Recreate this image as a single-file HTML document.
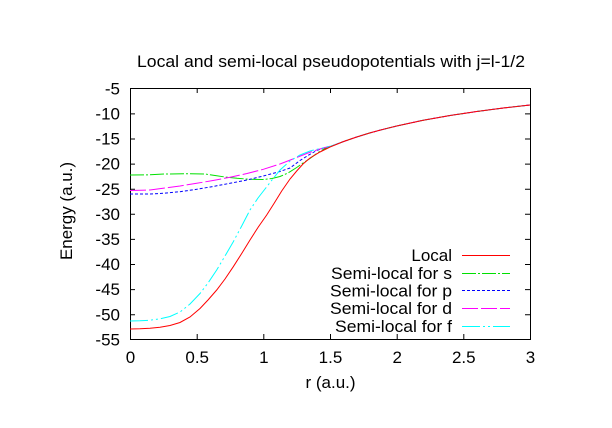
<!DOCTYPE html>
<html><head><meta charset="utf-8"><style>
html,body{margin:0;padding:0;background:#fff;}
svg{display:block;}
text{font-family:"Liberation Sans",sans-serif;font-size:17px;fill:#000;}
</style></head><body>
<svg width="612" height="428" viewBox="0 0 612 428" xmlns="http://www.w3.org/2000/svg">
<rect width="612" height="428" fill="#fff"/>
<text x="137" y="67" textLength="388" lengthAdjust="spacingAndGlyphs">Local and semi-local pseudopotentials with j=l-1/2</text>
<g stroke="#000" stroke-width="1" fill="none">
<rect x="130.5" y="88.5" width="400" height="251"/>
<path d="M130 113.9h5M130 139h5M130 164.1h5M130 189.2h5M130 214.3h5M130 239.4h5M130 264.5h5M130 289.6h5M130 314.7h5
M530 113.9h-5M530 139h-5M530 164.1h-5M530 189.2h-5M530 214.3h-5M530 239.4h-5M530 264.5h-5M530 289.6h-5M530 314.7h-5
M197.2 339v-5M263.8 339v-5M330.5 339v-5M397.2 339v-5M463.8 339v-5
M197.2 88v5M263.8 88v5M330.5 88v5M397.2 88v5M463.8 88v5"/>
</g>
<g text-anchor="end">
<text x="120" y="94.5">-5</text>
<text x="120" y="119.5">-10</text>
<text x="120" y="144.6">-15</text>
<text x="120" y="169.7">-20</text>
<text x="120" y="194.8">-25</text>
<text x="120" y="219.9">-30</text>
<text x="120" y="245">-35</text>
<text x="120" y="270.1">-40</text>
<text x="120" y="295.2">-45</text>
<text x="120" y="320.3">-50</text>
<text x="120" y="345.4">-55</text>
</g>
<g text-anchor="middle">
<text x="130.5" y="363">0</text>
<text x="197.2" y="363">0.5</text>
<text x="263.8" y="363">1</text>
<text x="330.5" y="363">1.5</text>
<text x="397.2" y="363">2</text>
<text x="463.8" y="363">2.5</text>
<text x="530.5" y="363">3</text>
<text x="330.5" y="388">r (a.u.)</text>
</g>
<text transform="translate(72,211) rotate(-90)" text-anchor="middle" textLength="98" lengthAdjust="spacingAndGlyphs">Energy (a.u.)</text>

<g fill="none" stroke-width="1">
<!-- s: green -->
<polyline stroke="#00e000" stroke-dasharray="14 2 2 2" points="130,175 150,174.8 165,174 190,173.7 205,174 215,175.5 225,177 237,178.3 250,179.3 263,179.5 272,178.5 280,176.5 288,173 296.7,167.5 303,163 310,158.5 318,152.5 325,148.5 333,145.5 343.3,141.6 356.7,137 370,132.9 383.3,129.3 396.7,126 423.3,120.2 450,115.5 476.7,111.5 503.3,108 530,105"/>
<!-- p: blue -->
<polyline stroke="#0000ff" stroke-dasharray="3 2" points="130,194 150,194 163,193.3 180,191.7 196.7,189.3 213,186.5 230,183.3 247,180 263.3,176 280,171.5 290,168 300,160.5 308,155.5 316.7,150.5 325,147.5 333,145.5 343.3,141.6 356.7,137 370,132.9 383.3,129.3 396.7,126 423.3,120.2 450,115.5 476.7,111.5 503.3,108 530,105"/>
<!-- d: magenta -->
<polyline stroke="#ff00ff" stroke-dasharray="16 3" points="130,190.5 150,190 163,188.3 180,186 196.7,183.3 213,180.5 230,177.3 247,173.5 263.3,169.3 280,164 296.7,157.5 308,153 316.7,150 325,147.5 333,145.5 343.3,141.6 356.7,137 370,132.9 383.3,129.3 396.7,126 423.3,120.2 450,115.5 476.7,111.5 503.3,108 530,105"/>
<!-- f: cyan -->
<polyline stroke="#00ffff" stroke-dasharray="18 3 2 3 2 3" points="130,321 140,320.8 150,320.2 160,318.8 170,316.5 180,312 190,304 200,293.5 208,283 216.7,270 225,256 233.3,241.7 241.7,226 250,210 258,198 265,189 272,180 280,170 290,161 300,155 310,151 320,148.5 330,146.5 343.3,141.6 356.7,137 370,132.9 383.3,129.3 396.7,126 423.3,120.2 450,115.5 476.7,111.5 503.3,108 530,105"/>
<!-- local: red -->
<polyline stroke="#ff0000" points="130,329 140,328.8 150,328.3 160,327.2 170,325.5 180,322.5 190,317 200,308.5 208,300 216.7,290 225,279 233.3,266.7 241.7,253.5 250,240 258.3,227 266.7,215 274,203.5 281.7,191 290,179 296.7,171 303,164 310,158 320,152 330,147 343.3,141.6 356.7,137 370,132.9 383.3,129.3 396.7,126 423.3,120.2 450,115.5 476.7,111.5 503.3,108 530,105"/>
</g>

<g text-anchor="end">
<text x="452" y="261">Local</text>
<text x="452" y="279" textLength="121" lengthAdjust="spacingAndGlyphs">Semi-local for s</text>
<text x="452" y="296.5" textLength="122" lengthAdjust="spacingAndGlyphs">Semi-local for p</text>
<text x="452" y="314" textLength="122" lengthAdjust="spacingAndGlyphs">Semi-local for d</text>
<text x="452" y="332" textLength="117" lengthAdjust="spacingAndGlyphs">Semi-local for f</text>
</g>
<g fill="none" stroke-width="1">
<line x1="462" y1="255.5" x2="510" y2="255.5" stroke="#ff0000"/>
<line x1="462" y1="273.5" x2="510" y2="273.5" stroke="#00e000" stroke-dasharray="14 2 2 2"/>
<line x1="462" y1="290.5" x2="510" y2="290.5" stroke="#0000ff" stroke-dasharray="3 2"/>
<line x1="462" y1="308.5" x2="510" y2="308.5" stroke="#ff00ff" stroke-dasharray="16 3"/>
<line x1="462" y1="326.5" x2="510" y2="326.5" stroke="#00ffff" stroke-dasharray="18 3 2 3 2 3"/>
</g>
</svg>
</body></html>
